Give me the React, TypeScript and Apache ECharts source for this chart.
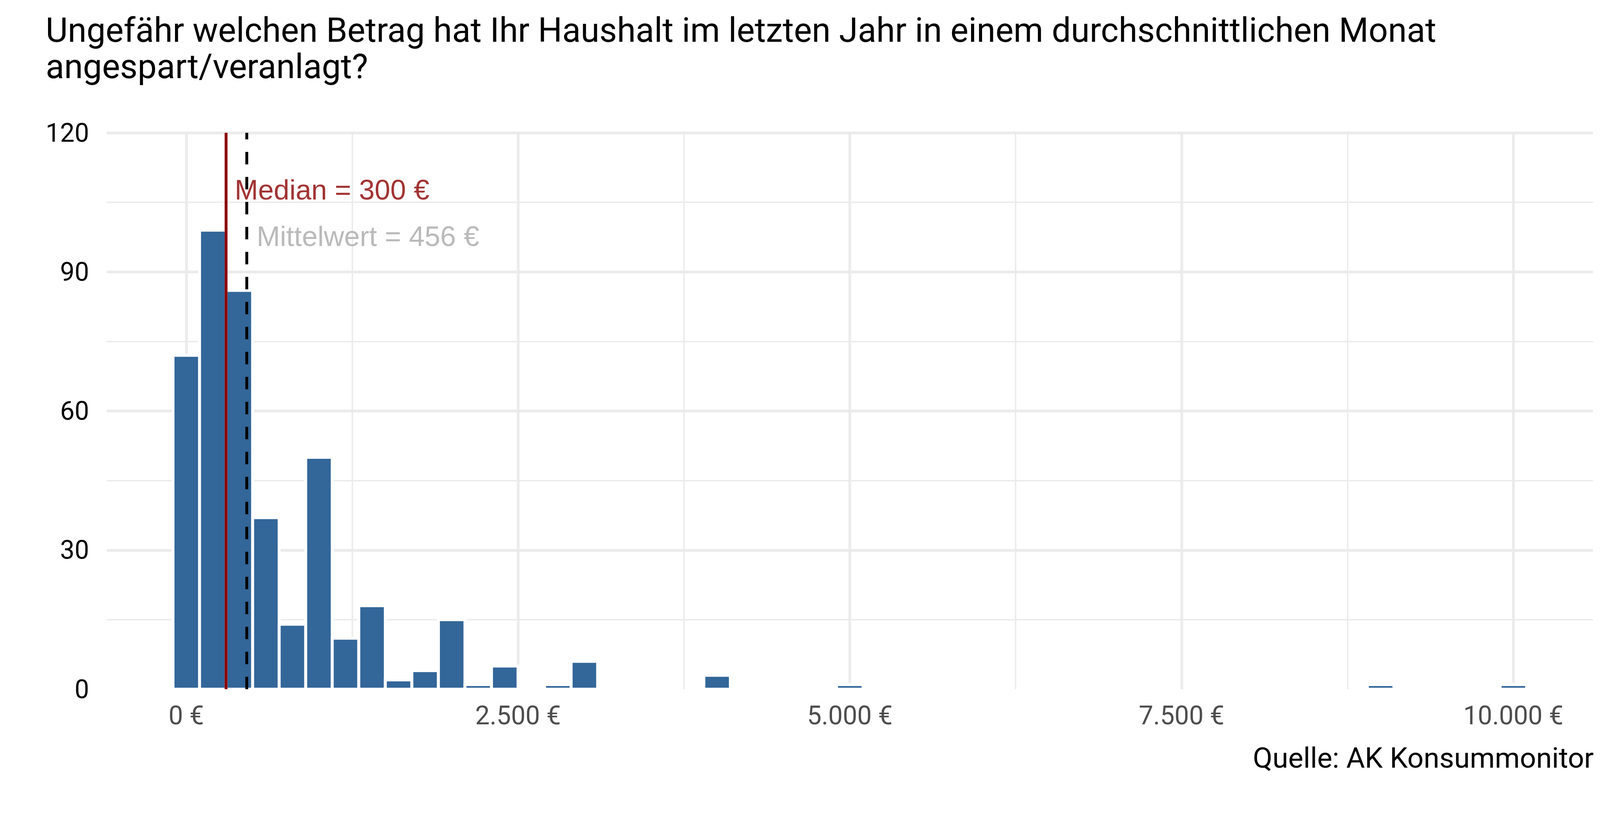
import { useEffect, useRef } from 'react'
import * as echarts from 'echarts'

// Histogramm: Klassenmitte (Breite 200 €) und Anzahl Haushalte
const binCenters = [0, 200, 400, 600, 800, 1000, 1200, 1400, 1600, 1800, 2000, 2200, 2400, 2800, 3000, 4000, 5000, 9000, 10000]
const binCounts = [72, 99, 86, 37, 14, 50, 11, 18, 2, 4, 15, 1, 5, 1, 6, 3, 1, 1, 1]
const binWidth = 200

const medianValue = 300
const meanValue = 456

const xTicks = [0, 2500, 5000, 7500, 10000]
const xMinorTicks = [1250, 3750, 6250, 8750]

const titleText = 'Ungefähr welchen Betrag hat Ihr Haushalt im letzten Jahr in einem durchschnittlichen Monat\nangespart/veranlagt?'
const captionText = 'Quelle: AK Konsummonitor'

// Beschriftungen der Linien: [x, y, Text]
const medianLabel: [number, number, string] = [365, 107.7, 'Median = 300 €']
const meanLabel: [number, number, string] = [530, 97.7, 'Mittelwert = 456 €']

const GRID = '#EBEBEB'
const BAR = '#336699'
const ROBOTO = 'Roboto'
const SANS = '"Liberation Sans", Arial, sans-serif'

function euro(v: number) {
  return String(v).replace(/\B(?=(\d{3})+(?!\d))/g, '.') + ' €'
}

export default function App() {
  const chartRef = useRef<HTMLDivElement>(null)

  useEffect(() => {
    document.body.style.margin = '0'
    if (!chartRef.current) return
    const chart = echarts.init(chartRef.current, null, { renderer: 'svg' })

    const option: any = {
      animation: false,
      backgroundColor: '#fff',
      title: [
        {
          text: titleText,
          left: 117,
          top: 30,
          padding: 0,
          textStyle: { fontFamily: ROBOTO, fontSize: 87, lineHeight: 93, fontWeight: 'normal', color: '#000' },
        },
        {
          text: captionText,
          right: 120,
          top: 1904,
          padding: 0,
          textStyle: { fontFamily: ROBOTO, fontSize: 73, lineHeight: 73, fontWeight: 'normal', color: '#000' },
        },
      ],
      grid: { left: 273, right: 122, top: 340, bottom: 335, outerBoundsMode: 'none' },
      xAxis: {
        type: 'value',
        min: -600,
        max: 10600,
        axisLine: { show: false },
        axisTick: { show: false },
        splitLine: { show: false },
        axisLabel: {
          customValues: xTicks,
          formatter: (v: number) => euro(v),
          fontFamily: ROBOTO,
          fontSize: 66,
          color: '#4D4D4D',
          margin: 34,
        },
      },
      yAxis: {
        type: 'value',
        min: 0,
        max: 120,
        interval: 30,
        axisLine: { show: false },
        axisTick: { show: false },
        splitLine: { show: true, showMinLine: false, lineStyle: { color: GRID, width: 7 } },
        minorTick: { show: false, splitNumber: 2 },
        minorSplitLine: { show: true, lineStyle: { color: GRID, width: 3.7 } },
        axisLabel: { fontFamily: ROBOTO, fontSize: 66, color: '#000', margin: 45 },
      },
      series: [
        {
          type: 'custom',
          z: 2,
          data: binCenters.map((c, i) => [c, binCounts[i]]),
          renderItem(_params: any, api: any) {
            const c = api.value(0)
            const n = api.value(1)
            const p0 = api.coord([c - binWidth / 2, n])
            const p1 = api.coord([c + binWidth / 2, 0])
            return {
              type: 'rect',
              shape: { x: p0[0], y: p0[1], width: p1[0] - p0[0], height: p1[1] - p0[1] },
              style: { fill: BAR, stroke: '#fff', lineWidth: 7.6 },
            }
          },
          markLine: {
            silent: true,
            symbol: 'none',
            z: 1,
            label: { show: false },
            data: [
              ...xTicks.map(v => ({ xAxis: v, lineStyle: { color: GRID, width: 7, type: 'solid' } })),
              ...xMinorTicks.map(v => ({ xAxis: v, lineStyle: { color: GRID, width: 3.7, type: 'solid' } })),
            ],
          },
        },
        {
          type: 'line',
          z: 3,
          symbol: 'none',
          data: [[medianValue, 0], [medianValue, 120]],
          lineStyle: { color: '#8B0000', width: 7.3 },
        },
        {
          type: 'scatter',
          z: 4,
          symbolSize: 0,
          data: [medianLabel, meanLabel].map(l => ({
            value: [l[0], l[1]],
            label: {
              show: true,
              position: [0, 0],
              align: 'left',
              verticalAlign: 'middle',
              formatter: l[2],
              fontFamily: SANS,
              fontSize: 72,
              color: l === medianLabel ? '#8B0000' : '#A9A9A9',
            },
          })),
        },
        {
          type: 'line',
          z: 5,
          symbol: 'none',
          data: [[meanValue, 0], [meanValue, 120]],
          lineStyle: { color: '#000', width: 7.3, type: [32, 32] },
        },
      ],
    }

    chart.setOption(option)
    return () => chart.dispose()
  }, [])

  return <div ref={chartRef} style={{ width: 4200, height: 2100 }} />
}
